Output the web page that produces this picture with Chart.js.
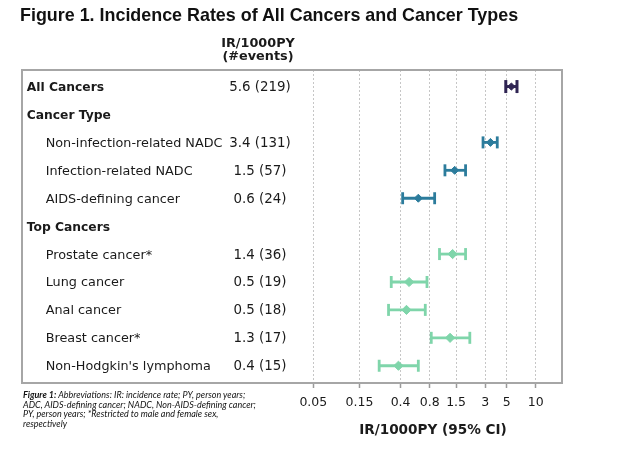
<!DOCTYPE html>
<html lang="en">
<head>
  <meta charset="UTF-8" />
  <title>Incidence Rates of All Cancers and Cancer Types</title>
  <script src="https://cdn.jsdelivr.net/npm/chart.js"></script>
  <style>
    html, body {
      margin: 0;
      padding: 0;
      background: #fff;
    }
    #wrap {
      position: relative;
      width: 621px;
      height: 449px;
      overflow: hidden;
    }
    #forest {
      position: absolute;
      left: 0;
      top: 0;
    }
    h1 {
      position: absolute;
      left: 20px;
      top: 6px;
      margin: 0;
      font: bold 17.9px/18px 'Liberation Sans', Arial, sans-serif;
      color: #111;
      white-space: nowrap;
    }
    .note {
      position: absolute;
      left: 23px;
      top: 390px;
      font: italic 10px/9.6px Lato, 'Liberation Sans', sans-serif;
      color: #111;
      white-space: nowrap;
      transform: scaleX(0.9);
      transform-origin: 0 0;
    }
  </style>
</head>
<body>
  <div id="wrap">
    <canvas id="forest" width="621" height="449"></canvas>
    <h1>Figure 1. Incidence Rates of All Cancers and Cancer Types</h1>
    <div class="note">
      <b>Figure 1:</b> Abbreviations: IR: incidence rate; PY, person years;<br>
      ADC, AIDS-defining cancer; NADC, Non-AIDS-defining cancer;<br>
      PY, person years; *Restricted to male and female sex,<br>
      respectively
    </div>
  </div>

  <script>
    // rows, top to bottom
    const rowLabels = [
      'All Cancers', 'Cancer Type', 'Non-infection-related NADC', 'Infection-related NADC',
      'AIDS-defining cancer', 'Top Cancers', 'Prostate cancer*', 'Lung cancer',
      'Anal cancer', 'Breast cancer*', "Non-Hodgkin's lymphoma"
    ];
    const rowIndent = [0, 0, 1, 1, 1, 0, 1, 1, 1, 1, 1];   // 0 = bold heading row
    const eventText = ['5.6 (219)', '', '3.4 (131)', '1.5 (57)', '0.6 (24)', '',
                       '1.4 (36)', '0.5 (19)', '0.5 (18)', '1.3 (17)', '0.4 (15)'];
    const rowGroup = ['all', null, 'type', 'type', 'type', null, 'top', 'top', 'top', 'top', 'top'];

    // IR/1000PY and 95% CI
    const rateValues = [5.6, null, 3.4, 1.45, 0.61, null, 1.38, 0.49, 0.46, 1.3, 0.38];
    const ciLower    = [4.9, null, 2.85, 1.15, 0.42, null, 1.01, 0.32, 0.30, 0.83, 0.24];
    const ciUpper    = [6.4, null, 4.0, 1.88, 0.9, null, 1.88, 0.75, 0.72, 2.08, 0.61];

    const tickValues = [0.05, 0.15, 0.4, 0.8, 1.5, 3, 5, 10];
    const xMin = 4.84e-5;
    const xMax = 18.7;
    const headerLines = ['IR/1000PY', '(#events)'];
    const axisTitle = 'IR/1000PY (95% CI)';

    const FONT = "'DejaVu Sans', Verdana, sans-serif";
    const groupColor = { all: '#2f2453', type: '#2c7c9c', top: '#7fd5aa' };
    const markerSize = { all: 3.6, type: 4, top: 4.6 };
    const capSize = { all: 6.5, type: 6, top: 6 };
    const barWidth = { all: 3, type: 2.8, top: 2.8 };

    // one small line dataset per confidence interval, caps are rotated 'line' points
    const ciSets = [];
    const markerPts = [], markerColors = [], markerRadius = [];
    rateValues.forEach((v, i) => {
      if (v === null) return;
      const g = rowGroup[i];
      ciSets.push({
        data: [{ x: ciLower[i], y: i }, { x: ciUpper[i], y: i }],
        showLine: true,
        borderColor: groupColor[g],
        borderWidth: barWidth[g],
        pointStyle: 'line',
        pointRotation: 90,
        pointRadius: capSize[g],
        pointBorderColor: groupColor[g],
        pointBorderWidth: barWidth[g],
        order: 1
      });
      markerPts.push({ x: v, y: i });
      markerColors.push(groupColor[g]);
      markerRadius.push(markerSize[g]);
    });

    const forestText = {
      id: 'forestText',
      beforeDatasetsDraw(chart) {
        const { ctx, chartArea: a, scales: { y } } = chart;
        ctx.save();
        ctx.strokeStyle = '#a6a6a6';
        ctx.lineWidth = 2;
        ctx.strokeRect(a.left, a.top, a.right - a.left, a.bottom - a.top);

        ctx.fillStyle = '#1a1a1a';
        ctx.textBaseline = 'alphabetic';
        rowLabels.forEach((label, i) => {
          const yy = y.getPixelForValue(i) + 4.5;
          ctx.textAlign = 'left';
          ctx.font = rowIndent[i] ? `12.8px ${FONT}` : `bold 12.3px ${FONT}`;
          ctx.fillText(label, a.left + (rowIndent[i] ? 23.7 : 4.7), yy);
          if (eventText[i]) {
            ctx.textAlign = 'center';
            ctx.font = `13.4px ${FONT}`;
            ctx.fillText(eventText[i], 260, yy);
          }
        });
        ctx.restore();
      },
      afterDraw(chart) {
        const { ctx } = chart;
        ctx.save();
        ctx.fillStyle = '#1a1a1a';
        ctx.textAlign = 'center';
        ctx.font = `bold 12.8px ${FONT}`;
        ctx.fillText(headerLines[0], 258, 46.7);
        ctx.fillText(headerLines[1], 258, 60);
        ctx.font = `bold 13.6px ${FONT}`;
        ctx.fillText(axisTitle, 433, 433.5);
        ctx.restore();
      }
    };

    new Chart(document.getElementById('forest'), {
      type: 'scatter',
      data: {
        datasets: [
          {
            data: markerPts,
            pointStyle: 'rectRot',
            pointRadius: markerRadius,
            backgroundColor: markerColors,
            borderColor: markerColors,
            borderWidth: 1,
            order: 0
          },
          ...ciSets
        ]
      },
      options: {
        responsive: false,
        animation: false,
        events: [],
        layout: { padding: { left: 22, right: 59, top: 70, bottom: 0 } },
        plugins: {
          legend: { display: false },
          tooltip: { enabled: false },
          title: { display: false }
        },
        scales: {
          x: {
            type: 'logarithmic',
            min: xMin,
            max: xMax,
            afterBuildTicks: (s) => { s.ticks = tickValues.map(v => ({ value: v })); },
            afterFit: (s) => { s.height = 66; },
            grid: {
              color: '#c6c6c6',
              lineWidth: 1,
              tickLength: 5,
              tickColor: '#9a9a9a',
              tickWidth: 1.5
            },
            border: { display: false, dash: [2, 2] },
            ticks: {
              autoSkip: false,
              maxRotation: 0,
              padding: 7,
              color: '#1a1a1a',
              font: { family: FONT, size: 12.5 },
              callback: (v) => String(v)
            }
          },
          y: {
            type: 'linear',
            reverse: true,
            min: -0.593,
            max: 10.618,
            display: false
          }
        }
      },
      plugins: [forestText]
    });
  </script>
</body>
</html>
